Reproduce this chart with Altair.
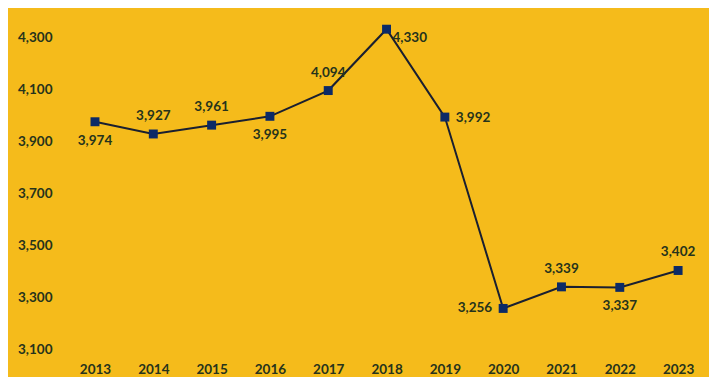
import altair as alt
import pandas as pd

years = [2013, 2014, 2015, 2016, 2017, 2018, 2019, 2020, 2021, 2022, 2023]
values = [3974, 3927, 3961, 3995, 4094, 4330, 3992, 3256, 3339, 3337, 3402]
label_pos = ["below", "above", "above", "below", "above", "right", "right2", "left", "above", "below", "above"]

df = pd.DataFrame({"year": years, "value": values, "pos": label_pos})

BG = "#F5BB1B"
TXT = "#26331C"
NAVY = "#0C2A66"
LINE = "#1A1F30"
FONT = "Lato"

x = alt.X("year:Q", scale=alt.Scale(domain=[2012.4, 2023.53], nice=False, zero=False),
          axis=alt.Axis(values=years, format="d", title=None, domain=False, ticks=False, grid=False,
                        labelFont=FONT, labelFontSize=13.5, labelFontWeight="bold", labelColor=TXT,
                        labelPadding=13))
y = alt.Y("value:Q", scale=alt.Scale(domain=[3100, 4400], nice=False, zero=False),
          axis=alt.Axis(values=[3100, 3300, 3500, 3700, 3900, 4100, 4300], format=",d", title=None,
                        domain=False, ticks=False, grid=False,
                        labelFont=FONT, labelFontSize=13.5, labelFontWeight="bold", labelColor=TXT,
                        labelPadding=8))

base = alt.Chart(df)
line = base.mark_line(color=LINE, strokeWidth=2).encode(x=x, y=y)
pts = base.mark_square(color=NAVY, opacity=1, size=80, filled=True).encode(x=x, y=y)

def lab(pos, **kw):
    return base.transform_filter(alt.datum.pos == pos).mark_text(
        font=FONT, fontSize=13.5, fontWeight="bold", color=TXT, **kw
    ).encode(x=x, y=y, text=alt.Text("value:Q", format=",d"))

labels = [
    lab("above", dy=-18, baseline="middle"),
    lab("below", dy=19, baseline="middle"),
    lab("right", dx=6, dy=9, align="left", baseline="middle"),
    lab("right2", dx=11, dy=1, align="left", baseline="middle"),
    lab("left", dx=-11, dy=0, align="right", baseline="middle"),
]

chart = alt.layer(line, pts, *labels).properties(
    width=649, height=338,
    background=BG,
    autosize=alt.AutoSizeParams(type="none"),
    padding={"left": 52, "top": 3, "right": 0, "bottom": 28},
).configure_view(stroke=None)

chart.save("out.html", embed_options={"renderer": "svg", "actions": False})
